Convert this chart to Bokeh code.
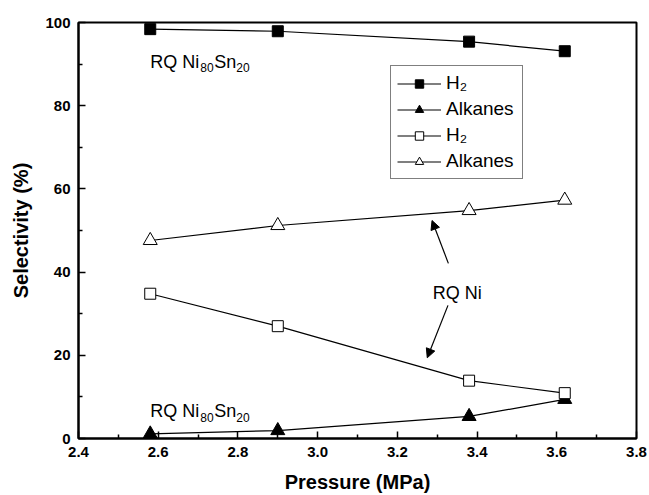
from bokeh.plotting import figure
from bokeh.models import (Legend, LegendItem, Label, Arrow, NormalHead, Range1d,
                          FixedTicker, NumeralTickFormatter)
from bokeh.embed import file_html
from bokeh.resources import INLINE

# ---- data ----
pressure = [2.58, 2.90, 3.38, 3.62]
h2_nisn = [98.4, 97.9, 95.4, 93.1]     # RQ Ni80Sn20, H2 (filled squares)
alk_nisn = [1.1, 1.9, 5.3, 9.4]        # RQ Ni80Sn20, alkanes (filled triangles)
h2_ni = [34.8, 27.0, 13.9, 10.9]       # RQ Ni, H2 (open squares)
alk_ni = [47.6, 51.2, 54.8, 57.3]      # RQ Ni, alkanes (open triangles)

x_ticks = [2.4, 2.6, 2.8, 3.0, 3.2, 3.4, 3.6, 3.8]
x_minor = [2.5, 2.7, 2.9, 3.1, 3.3, 3.5, 3.7]
y_ticks = [0, 20, 40, 60, 80, 100]
y_minor = [10, 30, 50, 70, 90]

legend_labels = ["H\u2082", "Alkanes", "H\u2082", "Alkanes"]

# annotation anchors (data coordinates)
ann_top = (2.58, 90.6)
ann_bottom = (2.58, 6.5)
ann_ni = (3.35, 34.9)
arrow_up = (3.328, 42.1, 3.287, 52.4)
arrow_down = (3.327, 32.0, 3.275, 19.4)

FONT = "Liberation Sans"

p = figure(width=649, height=495, output_backend="svg", toolbar_location=None,
           x_range=Range1d(2.4, 3.8), y_range=Range1d(0, 100),
           min_border_left=78, min_border_right=13, min_border_top=22,
           min_border_bottom=57)
p.background_fill_color = "white"
p.border_fill_color = "white"
p.xgrid.visible = False
p.ygrid.visible = False
p.outline_line_color = "black"
p.outline_line_width = 2

# axes
p.xaxis.ticker = FixedTicker(ticks=x_ticks, minor_ticks=x_minor)
p.yaxis.ticker = FixedTicker(ticks=y_ticks, minor_ticks=y_minor)
p.xaxis.formatter = NumeralTickFormatter(format="0.0")
p.yaxis.formatter = NumeralTickFormatter(format="0")
for ax in (p.xaxis, p.yaxis):
    ax.axis_line_color = "black"
    ax.axis_line_width = 2
    ax.major_tick_in = 7
    ax.major_tick_out = 0
    ax.minor_tick_in = 4
    ax.minor_tick_out = 0
    ax.major_tick_line_color = "black"
    ax.major_tick_line_width = 1.5
    ax.minor_tick_line_color = "black"
    ax.minor_tick_line_width = 1.5
    ax.major_label_text_font = FONT
    ax.major_label_text_font_style = "bold"
    ax.major_label_text_font_size = "15px"
    ax.major_label_text_color = "black"
    ax.axis_label_text_font = FONT
    ax.axis_label_text_font_style = "bold"
    ax.axis_label_text_font_size = "20px"
    ax.axis_label_text_color = "black"
    ax.major_label_standoff = 8
p.xaxis.axis_label = "Pressure (MPa)"
p.yaxis.axis_label = "Selectivity (%)"
p.xaxis.axis_label_standoff = 11
p.yaxis.axis_label_standoff = 10

# series
LW = 1.2
l1 = p.line(pressure, h2_nisn, line_color="black", line_width=LW)
m1 = p.scatter(pressure, h2_nisn, marker="square", size=11,
               fill_color="black", line_color="black")
l2 = p.line(pressure, alk_nisn, line_color="black", line_width=LW)
m2 = p.scatter(pressure, alk_nisn, marker="triangle", size=14,
               fill_color="black", line_color="black")
l3 = p.line(pressure, h2_ni, line_color="black", line_width=LW)
m3 = p.scatter(pressure, h2_ni, marker="square", size=11,
               fill_color="white", line_color="black", line_width=1)
l4 = p.line(pressure, alk_ni, line_color="black", line_width=LW)
m4 = p.scatter(pressure, alk_ni, marker="triangle", size=14,
               fill_color="white", line_color="black", line_width=1)

legend = Legend(items=[
    LegendItem(label=legend_labels[0], renderers=[l1, m1]),
    LegendItem(label=legend_labels[1], renderers=[l2, m2]),
    LegendItem(label=legend_labels[2], renderers=[l3, m3]),
    LegendItem(label=legend_labels[3], renderers=[l4, m4]),
], location=(312, 259))
legend.border_line_color = "black"
legend.border_line_width = 1
legend.background_fill_color = "white"
legend.background_fill_alpha = 1
legend.label_text_font = FONT
legend.label_text_font_size = "19px"
legend.label_text_color = "black"
legend.glyph_width = 44
legend.glyph_height = 21
legend.label_height = 21
legend.label_width = 70
legend.label_standoff = 5
legend.spacing = 4
legend.padding = 6
legend.margin = 0
p.add_layout(legend, "center")


def sub_label(x, y):
    parts = [("RQ Ni", 0, 0, "18px"), ("80", 50, -6, "12px"),
             ("Sn", 64, 0, "18px"), ("20", 86, -6, "12px")]
    for txt, dx, dy, fs in parts:
        p.add_layout(Label(x=x, y=y, text=txt, x_offset=dx, y_offset=dy,
                           text_font=FONT, text_font_size=fs,
                           text_color="black", text_baseline="alphabetic",
                           text_align="left"))


sub_label(*ann_top)
sub_label(*ann_bottom)
p.add_layout(Label(x=ann_ni[0], y=ann_ni[1], text="RQ Ni", text_font=FONT,
                   text_font_size="18px", text_color="black",
                   text_baseline="alphabetic", text_align="center"))

for xs, ys, xe, ye in (arrow_up, arrow_down):
    p.add_layout(Arrow(end=NormalHead(size=9, fill_color="black",
                                      line_color="black", line_width=1),
                       x_start=xs, y_start=ys, x_end=xe, y_end=ye,
                       line_color="black", line_width=1.2))

open("out.html", "w").write(file_html(p, INLINE))
